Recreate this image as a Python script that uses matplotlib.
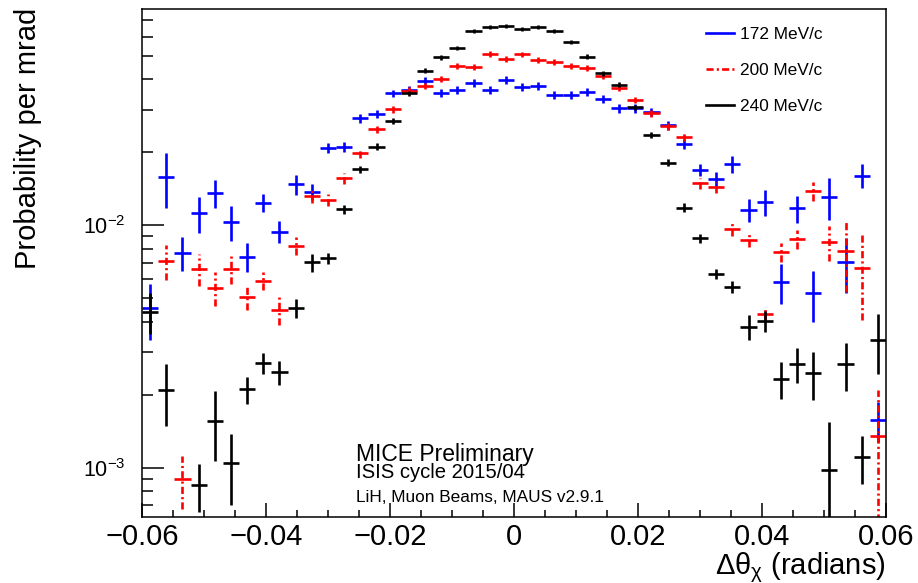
import numpy as np
import matplotlib
matplotlib.use('Agg')
import matplotlib.pyplot as plt
from matplotlib.lines import Line2D
from matplotlib.ticker import FixedLocator, FixedFormatter, MultipleLocator, LogLocator, NullFormatter

plt.rcParams['font.family'] = ['Liberation Sans', 'DejaVu Sans']
plt.rcParams['mathtext.fontset'] = 'custom'
plt.rcParams['mathtext.rm'] = 'Liberation Sans'
plt.rcParams['mathtext.it'] = 'Liberation Sans:italic'
plt.rcParams['mathtext.bf'] = 'Liberation Sans:bold'

# ---------------- data ----------------
x_range = (-0.06, 0.06)
n_bins = 46
nan = float('nan')

p172 = [0.00455, 0.01578, 0.00771, 0.01121, 0.01363, 0.01035, 0.00742, 0.01240,
        0.00941, 0.01476, 0.01376, 0.02078, 0.02110, 0.02763, 0.02879, 0.03504,
        0.03616, 0.03951, 0.03504, 0.03616, 0.03855, 0.03616, 0.03977, 0.03709,
        0.03766, 0.03447, 0.03447, 0.03558, 0.03319, 0.03038, 0.03038, 0.02933,
        0.02593, 0.02164, 0.01691, 0.01548, 0.01790, 0.01157, 0.01244, 0.00582,
        0.01175, 0.00524, 0.01312, 0.00708, 0.01602, 0.001573]
e172 = [0.0012, 0.0040, 0.00125, 0.0019, 0.0018, 0.0017, 0.0010, 0.0011,
        0.0010, 0.0014, 0.0010, 0.0010, 0.0010, 0.0011, 0.0011, 0.0012,
        0.0013, 0.0014, 0.0013, 0.0013, 0.0014, 0.0013, 0.0015, 0.0014,
        0.0014, 0.0013, 0.0013, 0.0013, 0.0013, 0.0012, 0.0012, 0.0012,
        0.0011, 0.0011, 0.0010, 0.0011, 0.0014, 0.0013, 0.0015, 0.0011,
        0.0015, 0.00125, 0.0026, 0.0018, 0.0018, 0.0003]

p200 = [nan, 0.00713, 0.000896, 0.00660, 0.00553, 0.00660, 0.00508, 0.00591,
        0.00447, 0.00821, 0.01321, 0.01271, 0.01563, 0.01982, 0.02489, 0.03009,
        0.03591, 0.03755, 0.04004, 0.04542, 0.04486, 0.05089, 0.04854, 0.05074,
        0.04807, 0.04718, 0.04542, 0.04444, 0.04129, 0.03674, 0.03287, 0.02897,
        0.02568, 0.02320, 0.01490, 0.01435, 0.00963, 0.00870, 0.00429, 0.00774,
        0.00876, 0.01385, 0.00851, 0.00783, 0.00668, 0.00135]
e200 = [nan, 0.0012, 0.00022, 0.0010, 0.0009, 0.0009, 0.0006, 0.0005,
        0.0006, 0.0007, 0.0009, 0.0007, 0.0008, 0.0008, 0.0009, 0.0010,
        0.0011, 0.0011, 0.0011, 0.0012, 0.0012, 0.0013, 0.0013, 0.0013,
        0.0013, 0.0012, 0.0012, 0.0012, 0.0012, 0.0011, 0.0010, 0.0010,
        0.0009, 0.0009, 0.0008, 0.0008, 0.0006, 0.0006, 0.0003, 0.0007,
        0.0008, 0.0012, 0.0014, 0.0025, 0.0026, 0.00075]

p240 = [0.00440, 0.00209, nan, 0.000848, 0.001563, 0.001043, 0.002106, 0.002696,
        0.002474, 0.004546, 0.00704, 0.00731, 0.01164, 0.01702, 0.02110, 0.02693,
        0.03504, 0.04344, 0.04932, 0.05372, 0.06333, 0.06559, 0.06660, 0.06454,
        0.06559, 0.06333, 0.05719, 0.04960, 0.04238, 0.03792, 0.03067, 0.02358,
        0.01813, 0.01182, 0.00884, 0.00628, 0.00558, 0.00381, 0.00402, 0.002316,
        0.00268, 0.00245, 0.000978, 0.00268, 0.001104, 0.003363]
e240 = [0.00085, 0.0006, nan, 0.00019, 0.0005, 0.00034, 0.00027, 0.00027,
        0.00028, 0.0004, 0.0006, 0.0004, 0.0005, 0.0006, 0.0007, 0.0008,
        0.0009, 0.0010, 0.0011, 0.0011, 0.0012, 0.0012, 0.0012, 0.0012,
        0.0012, 0.0012, 0.0011, 0.0011, 0.0010, 0.0009, 0.0008, 0.0007,
        0.0006, 0.0005, 0.0004, 0.0003, 0.0003, 0.00045, 0.0004, 0.0004,
        0.00045, 0.00055, 0.00057, 0.0006, 0.00025, 0.00093]

series_labels = ['172 MeV/c', '200 MeV/c', '240 MeV/c']
series_colors = ['#0000ff', '#ff0000', '#000000']
x_ticks = [-0.06, -0.04, -0.02, 0.0, 0.02, 0.04, 0.06]
x_tick_labels = ['\u22120.06', '\u22120.04', '\u22120.02', '0', '0.02', '0.04', '0.06']
y_ticks = [1e-3, 1e-2]
y_tick_labels = ['$10^{\u22123}$', '$10^{\u22122}$']

# ---------------- figure ----------------
W, H = 918, 583
fig = plt.figure(figsize=(W / 100, H / 100), dpi=100)
L, R, T, B = 142, 886, 9, 517
ax = fig.add_axes([L / W, 1 - B / H, (R - L) / W, (B - T) / H])

edges = np.linspace(x_range[0], x_range[1], n_bins + 1)
centers = 0.5 * (edges[:-1] + edges[1:])
half = 0.5 * (edges[1] - edges[0])

dashdot = (0, (2.7, 1.2, 0.8, 1.2))
lw = 1.9
for vals, errs, col, ls in [(p172, e172, series_colors[0], None),
                            (p200, e200, series_colors[1], dashdot),
                            (p240, e240, series_colors[2], None)]:
    v = np.array(vals, dtype=float)
    e = np.array(errs, dtype=float)
    m = ~np.isnan(v)
    eb = ax.errorbar(centers[m], v[m], yerr=e[m], xerr=half, fmt='none',
                     ecolor=col, elinewidth=lw, capsize=0)
    if ls is not None:
        eb.lines[2][1].set_linestyle(ls)

ax.set_yscale('log')
ax.set_xlim(*x_range)
ax.set_ylim(6.26e-4, 0.078)

ax.xaxis.set_major_locator(FixedLocator(x_ticks))
ax.xaxis.set_major_formatter(FixedFormatter(x_tick_labels))
ax.xaxis.set_minor_locator(MultipleLocator(0.005))
ax.yaxis.set_major_locator(FixedLocator(y_ticks))
ax.yaxis.set_major_formatter(FixedFormatter(y_tick_labels))
ax.yaxis.set_minor_locator(LogLocator(base=10, subs=np.arange(2, 10)))
ax.yaxis.set_minor_formatter(NullFormatter())

ax.tick_params(axis='x', which='major', direction='in', length=10, width=1.1,
               labelsize=21, pad=4, top=False)
ax.tick_params(axis='x', which='minor', direction='in', length=5, width=1.1, top=False)
ax.tick_params(axis='y', which='major', direction='in', length=16, width=1.1,
               labelsize=15.5, pad=12, right=False)
ax.tick_params(axis='y', which='minor', direction='in', length=8, width=1.1, right=False)
for s in ax.spines.values():
    s.set_linewidth(1.1)

# axis titles
fig.text(14 / W, 1 - 8 / H, 'Probability per mrad', rotation=90,
         ha='left', va='top', fontsize=21)
fig.text(R / W, 1 - 574 / H, '\u0394\u03b8$_{\\mathregular{\u03c7}}$ (radians)',
         ha='right', va='baseline', fontsize=21)

# annotation text
fig.text(356 / W, 1 - 460.5 / H, 'MICE Preliminary', fontsize=16.5, va='baseline')
fig.text(356 / W, 1 - 477.5 / H, 'ISIS cycle 2015/04', fontsize=14.6, va='baseline')
fig.text(356 / W, 1 - 501.7 / H, 'LiH, Muon Beams, MAUS v2.9.1', fontsize=12.4, va='baseline')

# legend
handles = [Line2D([], [], color=series_colors[0], lw=lw),
           Line2D([], [], color=series_colors[1], lw=lw, linestyle=dashdot),
           Line2D([], [], color=series_colors[2], lw=lw)]
ax.legend(handles, series_labels, loc='upper left',
          bbox_to_anchor=(706 / W, 1 - 27 / H), bbox_transform=fig.transFigure,
          frameon=False, fontsize=12.4, handlelength=1.6, handletextpad=0.35,
          labelspacing=1.22, borderpad=0, borderaxespad=0)

fig.savefig('out.png', dpi=100)
